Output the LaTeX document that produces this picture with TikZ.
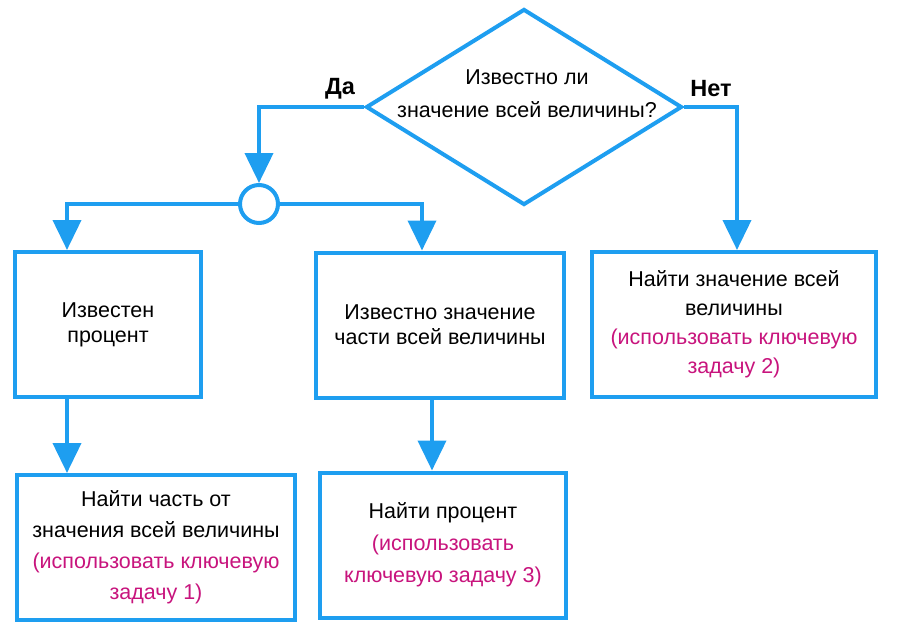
\documentclass[tikz,border=0pt]{standalone}
\usepackage{fontspec}
\setmainfont{Liberation Sans}
\usetikzlibrary{shapes.geometric,arrows.meta}
\definecolor{flowblue}{RGB}{30,158,240}
\definecolor{hintpink}{RGB}{200,20,125}

\begin{document}
\begin{tikzpicture}[
        x=1pt,
        y=-1pt,
        block/.style={
            rectangle,
            draw=flowblue,
            line width=4pt,
            fill=white,
            align=center,
            inner sep=0pt,
            minimum height=145pt,
            font=\fontsize{21.5}{31}\selectfont
        },
        decision/.style={
            diamond,
            draw=flowblue,
            line width=4pt,
            inner sep=0pt,
            minimum width=316pt,
            minimum height=196pt
        },
        junction/.style={
            circle,
            draw=flowblue,
            line width=4pt,
            fill=white,
            minimum size=38pt,
            inner sep=0pt
        },
        line/.style={
            draw=flowblue,
            line width=4pt,
            -{Triangle[width=28pt,length=30pt]}
        },
        hint/.style={color=hintpink},
        answer/.style={font=\fontsize{23.5}{28}\selectfont\bfseries}
      ]
    \useasboundingbox (0,0) rectangle (900,642);
    \node [decision] (known-whole) at (524,107) {};
    \node [align=center,font=\fontsize{21.5}{33}\selectfont] (question) at (527,94) {Известно ли\\значение всей величины?};
    \node [answer] (yes) at (340,89) {Да};
    \node [answer] (no) at (711,89) {Нет};
    \node [junction] (split) at (259,204) {};
    \node [block,minimum width=186pt,font=\fontsize{21.5}{25}\selectfont] (percent) at (108,324.5) {Известен\\процент};
    \node [block,minimum width=248pt,font=\fontsize{21.5}{25}\selectfont] (part) at (440,325) {Известно значение\\части всей величины};
    \node [block,minimum width=284pt,font=\fontsize{21.5}{29}\selectfont] (find-whole) at (734,324.5) {Найти значение всей\\величины\\{\color{hintpink}(использовать ключевую}\\{\color{hintpink}задачу 2)}};
    \node [block,minimum width=278pt] (find-part) at (156,547.5) {Найти часть от\\значения всей величины\\{\color{hintpink}(использовать ключевую}\\{\color{hintpink}задачу 1)}};
    \node [block,minimum width=246pt,font=\fontsize{21.5}{32}\selectfont] (find-percent) at (443,545) {Найти процент\\{\color{hintpink}(использовать}\\{\color{hintpink}ключевую задачу 3)}};
    \path [line] (known-whole.west) -| (split.north);
    \path [line] (known-whole.east) -| ([xshift=3pt]find-whole.north);
    \path [line] (split.west) -| ([xshift=-41pt]percent.north);
    \path [line] (split.east) -| ([xshift=-18pt]part.north);
    \path [line] ([xshift=-41pt]percent.south) -- ([xshift=-89pt]find-part.north);
    \path [line] ([xshift=-8pt]part.south) -- ([xshift=-11pt]find-percent.north);
  \end{tikzpicture}
\end{document}
